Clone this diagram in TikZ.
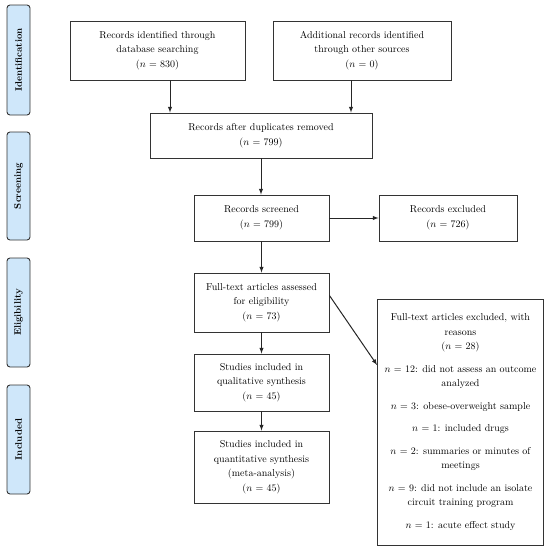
\documentclass[tikz,border=0pt]{standalone}
\usepackage{tikz}
\usetikzlibrary{shapes,calc,arrows}
\definecolor{stagefill}{HTML}{CFE7FA}
\definecolor{boxline}{HTML}{333333}

\begin{document}
\begin{tikzpicture}[x=1pt,y=-1pt,
    box/.style={draw=boxline,line width=0.9pt,align=center,inner sep=2pt,
      font=\fontsize{10}{14.5}\selectfont},
    stage/.style={draw=boxline,line width=0.9pt,fill=stagefill,rounded corners=3pt,
      rotate=90,minimum height=23pt,font=\fontsize{9.5}{11}\selectfont\bfseries},
    arr/.style={-latex,line width=1pt,draw=black!85}]
        % Frame
        \useasboundingbox (0,0) rectangle (549,550);
        % Stages
        \node[stage,minimum width=110pt] (ident) at (18.5,60) {Identification};
        \node[stage,minimum width=108pt] (screen) at (18.5,186) {Screening};
        \node[stage,minimum width=109pt] (elig) at (18.5,312.5) {Eligibility};
        \node[stage,minimum width=109pt] (incl) at (18.5,439.5) {Included};
        % Boxes
        \node[box,minimum width=175pt,minimum height=59pt] (dbase) at (157.5,50.5)
          {Records identified through\\ database searching\\ ($n$ = 830)};
        \node[box,minimum width=178pt,minimum height=59pt] (other) at (362,50.5)
          {Additional records identified\\ through other sources\\ ($n$ = 0)};
        \node[box,minimum width=222pt,minimum height=45pt] (dupl) at (261,135.5)
          {Records after duplicates removed\\ ($n$ = 799)};
        \node[box,minimum width=135pt,minimum height=46pt] (scrd) at (261.5,218)
          {Records screened\\ ($n$ = 799)};
        \node[box,minimum width=138pt,minimum height=46pt] (excl) at (448,218)
          {Records excluded\\ ($n$ = 726)};
        \node[box,minimum width=135pt,minimum height=59pt] (full) at (261.5,302.5)
          {Full-text articles assessed\\ for eligibility\\ ($n$ = 73)};
        \node[box,minimum width=135pt,minimum height=57pt] (qual) at (261.5,382.5)
          {Studies included in\\ qualitative synthesis\\ ($n$ = 45)};
        \node[box,minimum width=135pt,minimum height=72pt] (quant) at (261.5,467)
          {Studies included in\\ quantitative synthesis\\ (meta-analysis)\\ ($n$ = 45)};
        \node[box,minimum width=166pt,minimum height=246pt] (reas) at (460.5,422)
          {Full-text articles excluded, with\\ reasons\\ ($n$ = 28)\\[8pt]%
           $n$ = 12: did not assess an outcome\\ analyzed\\[8pt]%
           $n$ = 3: obese-overweight sample\\[8pt]%
           $n$ = 1: included drugs\\[8pt]%
           $n$ = 2: summaries or minutes of\\ meetings\\[8pt]%
           $n$ = 9: did not include an isolate\\ circuit training program\\[8pt]%
           $n$ = 1: acute effect study};
        % Arrows
        \draw[arr] ([xshift=12.5pt]dbase.south) -- ([xshift=12.5pt]dbase.south |- dupl.north);
        \draw[arr] ([xshift=-11pt]other.south) -- ([xshift=-11pt]other.south |- dupl.north);
        \draw[arr] (dupl.south) -- (dupl.south |- scrd.north);
        \draw[arr] (scrd.east) -- (excl.west);
        \draw[arr] (scrd.south) -- (full.north);
        \draw[arr] (full.south) -- (qual.north);
        \draw[arr] (qual.south) -- (quant.north);
        \draw[arr] ([yshift=7pt]full.east) -- ([yshift=57pt]reas.west);
      \end{tikzpicture}
\end{document}
